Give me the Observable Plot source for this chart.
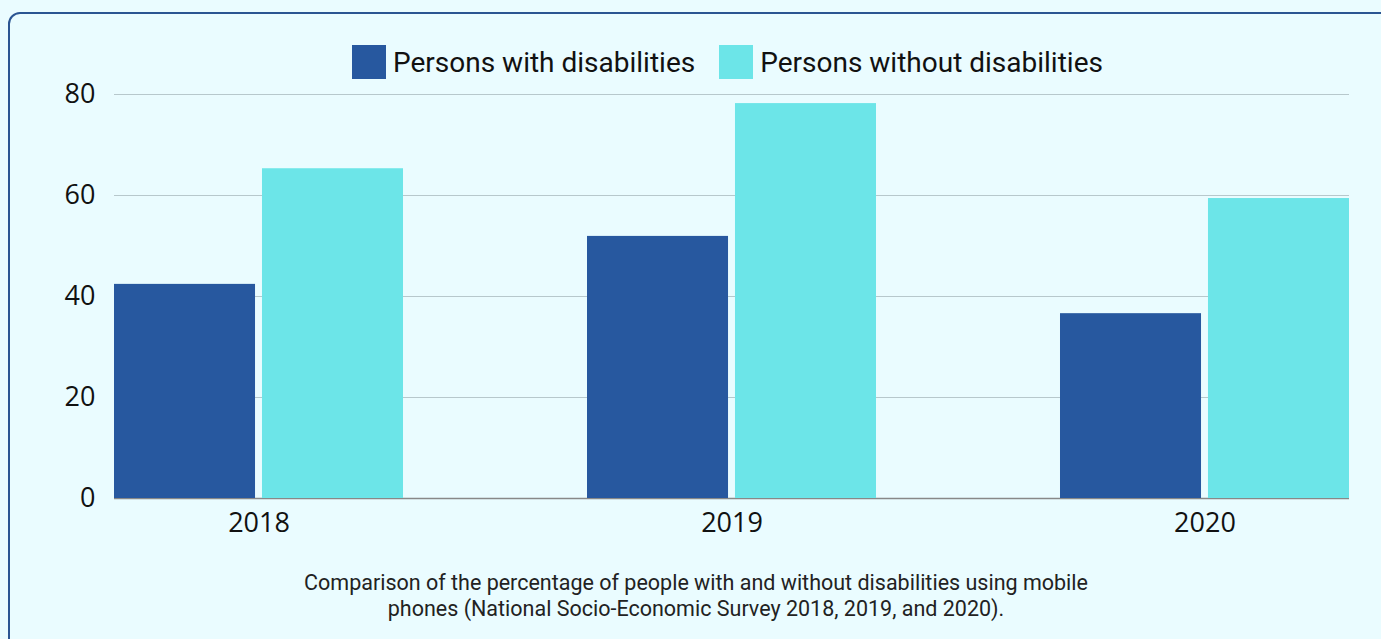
<!DOCTYPE html>
<html>
<head>
<meta charset="utf-8">
<script src="https://cdn.jsdelivr.net/npm/d3@7"></script>
<script src="https://cdn.jsdelivr.net/npm/@observablehq/plot@0.6"></script>
<style>
  html, body { margin: 0; padding: 0; }
  body { background: #eafcff; width: 1381px; height: 639px; overflow: hidden; position: relative; font-family: Roboto, "Open Sans", sans-serif; }
  #frame { position: absolute; left: 8px; top: 12px; width: 1420px; height: 700px; border: 2px solid #2b5592; border-radius: 12px; box-sizing: border-box; }
  #legend { position: absolute; left: 352px; top: 45px; display: flex; align-items: center; font-size: 28px; color: #111; white-space: nowrap; }
  #legend .item { display: flex; align-items: center; margin-right: 24px; }
  #legend .sw { width: 34px; height: 34px; margin-right: 7px; }
  #grid, #chart { position: absolute; left: 0; top: 80px; }
  #caption { position: absolute; left: 0; top: 570px; width: 1392px; text-align: center; font-size: 21.5px; line-height: 26px; color: #222; }
</style>
</head>
<body>
<div id="frame"></div>
<div id="legend"></div>
<div id="grid"></div>
<div id="chart"></div>
<div id="caption">Comparison of the percentage of people with and without disabilities using mobile<br>phones (National Socio-Economic Survey 2018, 2019, and 2020).</div>
<script>
const years = ["2018", "2019", "2020"];
const groups = ["Persons with disabilities", "Persons without disabilities"];
const withDisabilities = [42.4, 51.9, 36.6];
const withoutDisabilities = [65.3, 78.2, 59.4];
const yTicks = [0, 20, 40, 60, 80];
const colors = ["#27589f", "#6ce5e8"];

const data = years.flatMap((y, i) => [
  {year: y, group: groups[0], value: withDisabilities[i]},
  {year: y, group: groups[1], value: withoutDisabilities[i]}
]);

// legend
const legend = document.getElementById("legend");
groups.forEach((g, i) => {
  const item = document.createElement("div");
  item.className = "item";
  const sw = document.createElement("div");
  sw.className = "sw";
  sw.style.background = colors[i];
  const t = document.createElement("span");
  t.textContent = g;
  item.appendChild(sw);
  item.appendChild(t);
  legend.appendChild(item);
});

const dims = {width: 1381, height: 463, marginLeft: 114, marginRight: 32, marginTop: 14, marginBottom: 45};

// background grid (continuous across the whole plot area)
const grid = Plot.plot({
  ...dims,
  style: {background: "transparent", overflow: "visible"},
  y: {domain: [0, 80], axis: null},
  marks: [
    Plot.ruleY(yTicks.filter(d => d > 0), {stroke: "#b7c8cc", strokeWidth: 1.2}),
    Plot.ruleY([0], {stroke: "#888", strokeWidth: 1.5})
  ]
});
document.getElementById("grid").appendChild(grid);

const chart = Plot.plot({
  ...dims,
  style: {background: "transparent", fontFamily: "'Open Sans', sans-serif", fontSize: "27px", color: "#111", overflow: "visible"},
  fx: {domain: years, paddingInner: 0.389, paddingOuter: 0, round: false, label: null, axis: "bottom", tickSize: 0, tickPadding: 14},
  x: {domain: groups, paddingInner: 0.047, paddingOuter: 0, round: false, axis: null},
  y: {domain: [0, 80], ticks: yTicks, tickSize: 0, tickPadding: 19, label: null},
  color: {domain: groups, range: colors},
  marks: [
    Plot.barY(data, {fx: "year", x: "group", y: "value", fill: "group"})
  ]
});
document.getElementById("chart").appendChild(chart);
</script>
</body>
</html>
